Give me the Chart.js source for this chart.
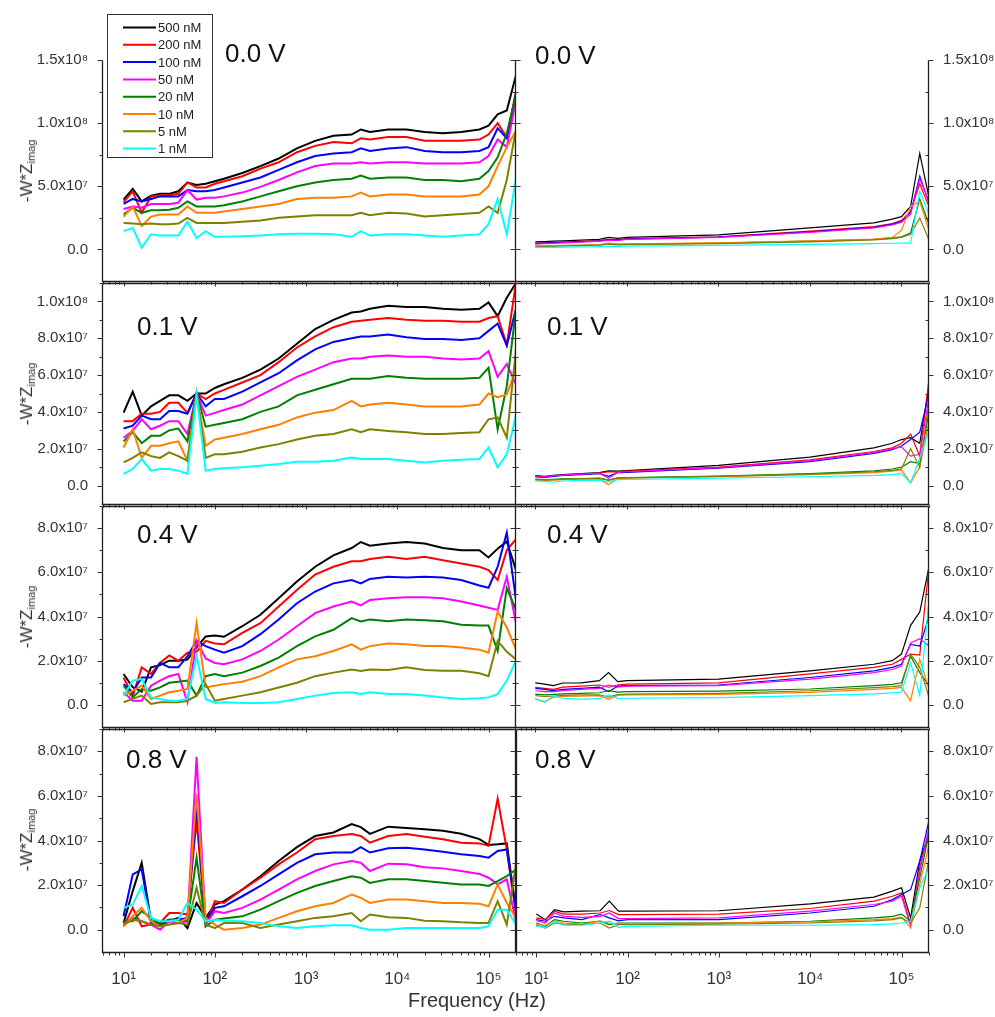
<!DOCTYPE html>
<html>
<head>
<meta charset="utf-8">
<script src="https://cdn.jsdelivr.net/npm/chart.js@4.4.1/dist/chart.umd.min.js"></script>
<style>
  body { margin: 0; background: #fff; width: 995px; height: 1017px; position: relative; overflow: hidden;
         font-family: "Liberation Sans", Arial, sans-serif; }
  canvas { position: absolute; }
  .ytitle { position: absolute; left: 27px; transform: translate(-50%, -50%) rotate(-90deg);
            white-space: nowrap; font-size: 17px; color: #333; }
  .ytitle sub { font-size: 11px; vertical-align: -3px; }
  .xtitle { position: absolute; left: 408px; top: 990px; font-size: 20px; line-height: 20px; color: #333; }
</style>
</head>
<body>
<script>
// series order: 500, 200, 100, 50, 20, 10, 5, 1 nM
const concentrations = ['500 nM', '200 nM', '100 nM', '50 nM', '20 nM', '10 nM', '5 nM', '1 nM'];
const colors = ['#000000', '#ff0000', '#0000ff', '#ff00ff', '#008000', '#ff8000', '#808000', '#00ffff'];
const voltages = ['0.0 V', '0.1 V', '0.4 V', '0.8 V'];

const freqLeft = [10, 12.6, 15.8, 20, 25.1, 31.6, 39.8, 50.1, 63.1, 79.4, 100, 126, 200, 316, 501, 794,
  1259, 1995, 3162, 3981, 5012, 7943, 12589, 19953, 31623, 50119, 79433, 100000, 125893, 158489, 200000];
const freqRight = [10, 12.6, 15.8, 20, 31.6, 50.1, 63.1, 79.4, 100, 1000, 10000, 50000, 79433, 100000,
  125893, 158489, 200000];

const xTicks = [10, 100, 1000, 10000, 100000];
const yTicks = [[0, 5e7, 1e8, 1.5e8], [0, 2e7, 4e7, 6e7, 8e7, 1e8], [0, 2e7, 4e7, 6e7, 8e7], [0, 2e7, 4e7, 6e7, 8e7]];
const yLimits = [[-2.5e7, 1.5e8], [-1e7, 1.1e8], [-1e7, 9e7], [-1e7, 9e7]];

// 0.0 V
const left00 = [
  [3.95e7, 4.8e7, 3.8e7, 4.26e7, 4.4e7, 4.4e7, 4.6e7, 5.3e7, 5.1e7, 5.2e7, 5.4e7, 5.6e7, 6.05e7, 6.6e7, 7.2e7, 8.0e7, 8.6e7, 9.0e7, 9.1e7, 9.5e7, 9.3e7, 9.5e7, 9.5e7, 9.3e7, 9.2e7, 9.3e7, 9.5e7, 9.8e7, 1.07e8, 1.1e8, 1.38e8],
  [3.75e7, 4.6e7, 2.9e7, 4.2e7, 4.3e7, 4.3e7, 4.4e7, 5.3e7, 4.9e7, 4.9e7, 5.2e7, 5.4e7, 5.8e7, 6.4e7, 6.9e7, 7.7e7, 8.2e7, 8.5e7, 8.4e7, 8.8e7, 8.7e7, 8.9e7, 8.9e7, 8.6e7, 8.6e7, 8.6e7, 8.7e7, 9.1e7, 1.0e8, 8.9e7, 1.25e8],
  [3.6e7, 4.0e7, 3.8e7, 4.0e7, 4.2e7, 4.2e7, 4.2e7, 4.7e7, 4.6e7, 4.6e7, 4.7e7, 4.9e7, 5.3e7, 5.7e7, 6.3e7, 6.9e7, 7.4e7, 7.6e7, 7.7e7, 8.0e7, 7.8e7, 8.0e7, 8.1e7, 7.8e7, 7.7e7, 7.7e7, 7.8e7, 8.1e7, 9.6e7, 8.8e7, 1.23e8],
  [3.2e7, 3.4e7, 3.3e7, 3.6e7, 3.6e7, 3.6e7, 3.7e7, 4.7e7, 3.95e7, 4.1e7, 4.1e7, 4.2e7, 4.5e7, 4.95e7, 5.5e7, 6.1e7, 6.6e7, 6.8e7, 6.8e7, 6.9e7, 6.8e7, 6.9e7, 6.9e7, 6.8e7, 6.8e7, 6.8e7, 6.9e7, 7.4e7, 8.7e7, 8.1e7, 1.18e8],
  [2.76e7, 3.3e7, 2.9e7, 3.1e7, 3.1e7, 3.15e7, 3.3e7, 3.8e7, 3.4e7, 3.4e7, 3.4e7, 3.5e7, 3.8e7, 4.2e7, 4.6e7, 5.0e7, 5.3e7, 5.5e7, 5.6e7, 5.85e7, 5.6e7, 5.7e7, 5.7e7, 5.5e7, 5.5e7, 5.4e7, 5.6e7, 6.2e7, 7.3e7, 9.2e7, 1.22e8],
  [2.6e7, 3.4e7, 1.85e7, 2.6e7, 2.76e7, 2.76e7, 2.76e7, 3.4e7, 2.9e7, 2.9e7, 2.9e7, 3.0e7, 3.2e7, 3.4e7, 3.6e7, 4.0e7, 4.1e7, 4.1e7, 4.2e7, 4.5e7, 4.2e7, 4.35e7, 4.35e7, 4.2e7, 4.2e7, 4.2e7, 4.35e7, 5.0e7, 6.6e7, 8.1e7, 9.4e7],
  [2.1e7, 2.05e7, 2.0e7, 2.05e7, 2.0e7, 2.0e7, 2.05e7, 2.5e7, 2.1e7, 2.1e7, 2.1e7, 2.1e7, 2.2e7, 2.3e7, 2.5e7, 2.6e7, 2.7e7, 2.7e7, 2.7e7, 2.9e7, 2.7e7, 2.9e7, 2.85e7, 2.6e7, 2.7e7, 2.8e7, 2.9e7, 3.4e7, 2.9e7, 5.5e7, 9.5e7],
  [1.45e7, 1.7e7, 1.3e6, 1.2e7, 1.1e7, 1.1e7, 1.1e7, 2.2e7, 9.0e6, 1.45e7, 1.0e7, 1.0e7, 1.05e7, 1.1e7, 1.2e7, 1.25e7, 1.25e7, 1.2e7, 1.0e7, 1.45e7, 1.1e7, 1.2e7, 1.2e7, 1.1e7, 1.0e7, 1.1e7, 1.2e7, 2.0e7, 4.0e7, 1.2e7, 5.6e7]
];
const right00 = [
  [6.0e6, 6.2e6, 6.5e6, 6.8e6, 7.3e6, 8.0e6, 9.5e6, 8.8e6, 9.6e6, 1.15e7, 1.7e7, 2.1e7, 2.4e7, 2.6e7, 3.4e7, 7.6e7, 4.1e7],
  [5.0e6, 5.2e6, 5.5e6, 5.8e6, 6.3e6, 7.0e6, 8.0e6, 7.8e6, 8.5e6, 1.0e7, 1.45e7, 1.8e7, 2.05e7, 2.3e7, 3.0e7, 5.2e7, 3.4e7],
  [4.8e6, 5.0e6, 5.3e6, 5.6e6, 6.1e6, 6.8e6, 7.5e6, 7.5e6, 8.2e6, 9.8e6, 1.4e7, 1.75e7, 2.0e7, 2.2e7, 2.9e7, 5.8e7, 3.7e7],
  [4.2e6, 4.5e6, 4.8e6, 5.2e6, 5.8e6, 6.5e6, 7.2e6, 7.2e6, 8.0e6, 9.5e6, 1.35e7, 1.7e7, 1.95e7, 2.15e7, 2.8e7, 5.6e7, 3.8e7],
  [2.5e6, 2.6e6, 2.8e6, 3.0e6, 3.3e6, 3.6e6, 4.5e6, 4.0e6, 4.2e6, 5.0e6, 6.5e6, 8.0e6, 9.0e6, 1.0e7, 1.3e7, 4.0e7, 2.0e7],
  [2.8e6, 2.9e6, 3.0e6, 3.2e6, 3.5e6, 3.8e6, 5.0e6, 4.2e6, 4.4e6, 5.2e6, 6.8e6, 8.2e6, 9.5e6, 1.5e7, 3.4e7, 3.8e7, 1.5e7],
  [2.2e6, 2.3e6, 2.5e6, 2.7e6, 3.0e6, 3.3e6, 4.2e6, 3.6e6, 3.8e6, 4.6e6, 6.0e6, 7.5e6, 8.5e6, 9.5e6, 1.2e7, 2.5e7, 7.5e6],
  [1.5e6, 1.6e6, 1.7e6, 1.8e6, 2.0e6, 2.2e6, 2.5e6, 2.4e6, 2.6e6, 3.2e6, 4.0e6, 4.6e6, 4.9e6, 5.0e6, 5.0e6, 4.6e7, 2.8e7]
];

// 0.1 V
const left01 = [
  [3.96e7, 5.1e7, 3.8e7, 4.3e7, 4.6e7, 4.9e7, 4.9e7, 4.6e7, 5.0e7, 5.0e7, 5.3e7, 5.5e7, 5.85e7, 6.3e7, 6.9e7, 7.7e7, 8.5e7, 9.0e7, 9.4e7, 9.45e7, 9.6e7, 9.77e7, 9.7e7, 9.7e7, 9.6e7, 9.55e7, 9.6e7, 9.95e7, 9.2e7, 1.02e8, 1.1e8],
  [3.5e7, 3.5e7, 3.9e7, 3.9e7, 4.0e7, 4.5e7, 4.5e7, 3.95e7, 5.0e7, 4.7e7, 5.0e7, 5.2e7, 5.6e7, 6.0e7, 6.7e7, 7.5e7, 8.1e7, 8.6e7, 8.9e7, 8.95e7, 9.0e7, 9.1e7, 9.0e7, 8.95e7, 8.95e7, 8.9e7, 8.9e7, 9.1e7, 9.2e7, 7.65e7, 1.1e8],
  [3.1e7, 3.25e7, 3.8e7, 3.6e7, 3.6e7, 4.05e7, 4.05e7, 3.9e7, 5.0e7, 4.3e7, 4.7e7, 4.7e7, 5.1e7, 5.6e7, 6.1e7, 6.8e7, 7.4e7, 7.8e7, 8.0e7, 8.1e7, 8.1e7, 8.2e7, 8.05e7, 7.96e7, 7.96e7, 7.9e7, 8.0e7, 8.4e7, 8.8e7, 7.6e7, 9.6e7],
  [2.6e7, 2.97e7, 3.6e7, 3.06e7, 3.25e7, 3.5e7, 3.5e7, 2.8e7, 5.0e7, 3.8e7, 3.95e7, 4.1e7, 4.4e7, 4.9e7, 5.4e7, 5.9e7, 6.3e7, 6.7e7, 6.9e7, 6.9e7, 7.0e7, 7.06e7, 7.0e7, 7.0e7, 6.9e7, 6.85e7, 6.9e7, 7.3e7, 5.9e7, 6.6e7, 5.5e7],
  [2.4e7, 2.9e7, 2.3e7, 2.7e7, 2.7e7, 3.0e7, 3.1e7, 2.4e7, 5.0e7, 3.2e7, 3.3e7, 3.4e7, 3.6e7, 4.0e7, 4.3e7, 4.9e7, 5.2e7, 5.5e7, 5.8e7, 5.8e7, 5.8e7, 5.95e7, 5.85e7, 5.8e7, 5.8e7, 5.8e7, 5.85e7, 6.4e7, 3.05e7, 5.4e7, 9.6e7],
  [2.07e7, 3.06e7, 1.5e7, 2.16e7, 2.16e7, 2.3e7, 2.4e7, 1.35e7, 5.0e7, 2.16e7, 2.5e7, 2.6e7, 2.8e7, 3.06e7, 3.3e7, 3.7e7, 3.96e7, 4.1e7, 4.6e7, 4.3e7, 4.4e7, 4.5e7, 4.4e7, 4.3e7, 4.3e7, 4.3e7, 4.4e7, 5.0e7, 4.8e7, 4.95e7, 6.3e7],
  [1.26e7, 1.5e7, 1.8e7, 1.6e7, 1.5e7, 1.8e7, 1.6e7, 1.35e7, 5.0e7, 1.5e7, 1.7e7, 1.7e7, 1.84e7, 2.07e7, 2.25e7, 2.5e7, 2.7e7, 2.8e7, 3.06e7, 2.9e7, 3.06e7, 2.97e7, 2.9e7, 2.8e7, 2.8e7, 2.85e7, 2.9e7, 3.6e7, 3.7e7, 2.6e7, 7.4e7],
  [6.3e6, 9.0e6, 1.44e7, 8.1e6, 9.0e6, 9.0e6, 8.1e6, 6.3e6, 4.9e7, 8.1e6, 9.0e6, 9.4e6, 9.9e6, 1.08e7, 1.17e7, 1.3e7, 1.3e7, 1.35e7, 1.53e7, 1.44e7, 1.44e7, 1.44e7, 1.35e7, 1.26e7, 1.35e7, 1.4e7, 1.44e7, 2.07e7, 9.9e6, 1.7e7, 3.8e7]
];
const right01 = [
  [5.4e6, 5.0e6, 5.6e6, 6.0e6, 6.5e6, 7.0e6, 8.0e6, 7.8e6, 8.1e6, 1.1e7, 1.55e7, 2.05e7, 2.3e7, 2.5e7, 2.6e7, 2.3e7, 5.4e7],
  [5.0e6, 4.6e6, 5.2e6, 5.6e6, 6.2e6, 6.8e6, 7.5e6, 7.3e6, 7.8e6, 1.0e7, 1.4e7, 1.85e7, 2.05e7, 2.3e7, 2.8e7, 1.6e7, 5.8e7],
  [4.8e6, 4.5e6, 5.0e6, 5.5e6, 6.0e6, 6.5e6, 5.0e6, 7.0e6, 7.2e6, 9.5e6, 1.3e7, 1.75e7, 1.95e7, 2.15e7, 2.5e7, 2.9e7, 5.0e7],
  [5.2e6, 4.8e6, 5.4e6, 5.7e6, 6.2e6, 6.7e6, 4.0e6, 7.2e6, 7.5e6, 9.8e6, 1.35e7, 1.8e7, 2.0e7, 2.1e7, 1.6e7, 1.7e7, 4.8e7],
  [3.5e6, 3.2e6, 3.4e6, 3.6e6, 3.8e6, 4.0e6, 3.0e6, 4.2e6, 4.3e6, 5.2e6, 6.5e6, 8.0e6, 9.0e6, 1.0e7, 1.3e7, 1.2e7, 4.0e7],
  [3.0e6, 2.8e6, 3.0e6, 3.2e6, 3.5e6, 3.6e6, 5.0e5, 3.8e6, 4.0e6, 4.8e6, 6.0e6, 7.0e6, 7.8e6, 8.5e6, 1.5e6, 1.0e7, 3.5e7],
  [3.2e6, 3.0e6, 3.2e6, 3.4e6, 3.7e6, 3.9e6, 3.0e6, 4.0e6, 4.2e6, 5.0e6, 6.2e6, 7.5e6, 8.3e6, 9.0e6, 2.0e7, 1.0e7, 4.5e7],
  [2.5e6, 2.3e6, 1.8e6, 2.5e6, 2.8e6, 3.0e6, 2.0e6, 3.2e6, 3.3e6, 4.0e6, 4.8e6, 5.5e6, 6.0e6, 6.5e6, 1.5e6, 1.5e7, 3.0e7]
];

// 0.4 V
const left04 = [
  [1.4e7, 8.0e6, 6.0e6, 1.7e7, 1.8e7, 2.0e7, 2.0e7, 2.05e7, 2.6e7, 3.1e7, 3.14e7, 3.08e7, 3.56e7, 4.08e7, 4.83e7, 5.58e7, 6.25e7, 6.77e7, 7.1e7, 7.37e7, 7.2e7, 7.3e7, 7.37e7, 7.3e7, 7.1e7, 7.0e7, 7.0e7, 6.67e7, 7.07e7, 7.4e7, 6.1e7],
  [1.24e7, 4.0e6, 1.7e7, 1.4e7, 1.9e7, 2.24e7, 2.0e7, 2.36e7, 2.4e7, 2.9e7, 2.78e7, 2.74e7, 3.26e7, 3.7e7, 4.45e7, 5.2e7, 5.9e7, 6.25e7, 6.5e7, 6.5e7, 6.6e7, 6.7e7, 6.6e7, 6.7e7, 6.55e7, 6.4e7, 6.25e7, 6.1e7, 5.65e7, 7.0e7, 7.5e7],
  [9.4e6, 5.7e6, 1.24e7, 1.24e7, 1.9e7, 1.7e7, 1.7e7, 2.2e7, 2.9e7, 2.66e7, 2.5e7, 2.36e7, 2.66e7, 3.2e7, 3.86e7, 4.6e7, 5.13e7, 5.5e7, 5.65e7, 5.5e7, 5.7e7, 5.8e7, 5.76e7, 5.8e7, 5.76e7, 5.65e7, 5.4e7, 5.3e7, 6.25e7, 7.8e7, 4.75e7],
  [5.7e6, 1.9e6, 1.9e6, 8.7e6, 1.1e7, 1.3e7, 1.4e7, 1.2e6, 2.9e7, 2.1e7, 1.9e7, 1.84e7, 2.06e7, 2.44e7, 2.96e7, 3.56e7, 4.15e7, 4.45e7, 4.68e7, 4.5e7, 4.75e7, 4.83e7, 4.87e7, 4.87e7, 4.83e7, 4.68e7, 4.5e7, 4.4e7, 4.3e7, 5.8e7, 3.7e7],
  [8.7e6, 3.4e6, 7.2e6, 6.4e6, 7.9e6, 1.0e7, 1.05e7, 1.1e7, 4.2e6, 1.3e7, 1.4e7, 1.3e7, 1.46e7, 1.76e7, 2.14e7, 2.66e7, 3.1e7, 3.4e7, 3.93e7, 3.78e7, 3.86e7, 3.78e7, 3.86e7, 3.83e7, 3.78e7, 3.63e7, 3.59e7, 3.59e7, 2.44e7, 5.28e7, 4.3e7],
  [4.2e6, 6.4e6, 8.7e6, 2.7e6, 4.2e6, 5.7e6, 6.4e6, 7.2e6, 3.7e7, 7.9e6, 8.7e6, 9.4e6, 1.05e7, 1.3e7, 1.7e7, 2.06e7, 2.2e7, 2.44e7, 2.74e7, 2.5e7, 2.66e7, 2.78e7, 2.74e7, 2.66e7, 2.66e7, 2.6e7, 2.5e7, 2.36e7, 4.23e7, 3.5e7, 2.5e7],
  [1.2e6, 2.7e6, 4.2e6, 4.5e5, 1.2e6, 1.2e6, 1.2e6, 1.9e6, 4.2e6, 9.4e6, 1.9e6, 2.7e6, 4.2e6, 5.7e6, 7.9e6, 1.0e7, 1.3e7, 1.46e7, 1.6e7, 1.54e7, 1.6e7, 1.58e7, 1.7e7, 1.58e7, 1.54e7, 1.54e7, 1.43e7, 1.3e7, 2.9e7, 2.4e7, 2.06e7],
  [4.2e6, 1.1e7, 1.17e7, 3.4e6, 2.7e6, 1.9e6, 1.9e6, 2.7e6, 2.2e7, 2.7e6, 9.0e5, 1.2e6, 9.0e5, 9.0e5, 1.2e6, 2.7e6, 4.2e6, 5.4e6, 5.7e6, 4.9e6, 5.7e6, 4.9e6, 4.9e6, 4.2e6, 3.4e6, 2.7e6, 3.0e6, 3.4e6, 4.9e6, 1.1e7, 2.0e7]
];
const right04 = [
  [1.0e7, 9.4e6, 8.7e6, 9.9e6, 1.0e7, 1.1e7, 1.46e7, 1.05e7, 1.1e7, 1.17e7, 1.54e7, 1.84e7, 2.0e7, 2.3e7, 3.6e7, 4.2e7, 6.25e7],
  [7.9e6, 7.5e6, 7.0e6, 8.0e6, 8.5e6, 9.0e6, 8.0e6, 9.0e6, 9.4e6, 1.0e7, 1.4e7, 1.7e7, 1.84e7, 2.06e7, 2.3e7, 2.25e7, 6.25e7],
  [7.5e6, 7.0e6, 6.5e6, 7.0e6, 7.5e6, 8.0e6, 6.0e6, 8.5e6, 8.7e6, 9.0e6, 1.24e7, 1.54e7, 1.7e7, 1.84e7, 2.74e7, 2.66e7, 4.0e7],
  [6.4e6, 6.0e6, 6.0e6, 6.5e6, 7.0e6, 7.5e6, 9.0e6, 8.0e6, 8.5e6, 8.7e6, 1.17e7, 1.46e7, 1.6e7, 1.76e7, 2.8e7, 3.0e7, 2.66e7],
  [4.9e6, 4.5e6, 4.8e6, 5.0e6, 5.2e6, 5.5e6, 6.5e6, 5.8e6, 6.0e6, 6.2e6, 7.2e6, 8.7e6, 9.3e6, 1.0e7, 2.2e7, 1.46e7, 8.7e6],
  [2.7e6, 1.5e6, 3.5e6, 3.8e6, 4.0e6, 4.2e6, 2.5e6, 4.3e6, 4.5e6, 4.8e6, 5.7e6, 7.0e6, 7.5e6, 7.9e6, 1.9e6, 2.06e7, 7.2e6],
  [4.2e6, 3.8e6, 4.0e6, 4.3e6, 4.5e6, 4.6e6, 3.5e6, 4.7e6, 4.9e6, 5.2e6, 6.4e6, 7.8e6, 8.3e6, 8.7e6, 2.3e7, 1.7e7, 3.4e6],
  [2.7e6, 1.2e6, 4.2e6, 3.0e6, 2.6e6, 2.8e6, 4.5e6, 2.9e6, 3.0e6, 3.3e6, 4.2e6, 5.0e6, 5.4e6, 5.7e6, 1.9e7, 4.2e6, 4.75e7]
];

// 0.8 V
const left08 = [
  [3.0e6, 1.73e7, 3.0e7, 3.8e6, 2.3e6, 3.8e6, 5.3e6, 7.5e5, 1.2e7, 5.3e6, 1.13e7, 1.28e7, 1.8e7, 2.4e7, 3.08e7, 3.7e7, 4.2e7, 4.36e7, 4.74e7, 4.6e7, 4.3e7, 4.62e7, 4.56e7, 4.5e7, 4.44e7, 4.3e7, 4.06e7, 3.8e7, 3.83e7, 3.87e7, 8.3e6],
  [1.5e6, 9.8e6, 1.5e6, 2.3e6, 3.0e6, 7.5e6, 7.5e6, 6.8e6, 4.9e7, 2.3e6, 1.28e7, 1.2e7, 1.8e7, 2.33e7, 2.93e7, 3.46e7, 4.06e7, 4.2e7, 4.29e7, 4.2e7, 3.9e7, 4.2e7, 4.29e7, 4.17e7, 4.06e7, 3.9e7, 3.87e7, 3.76e7, 5.87e7, 3.6e7, 6.8e6],
  [6.0e6, 2.48e7, 2.7e7, 3.0e6, 3.0e6, 4.5e6, 4.5e6, 5.3e6, 5.5e7, 3.8e6, 9.8e6, 1.05e7, 1.5e7, 1.96e7, 2.48e7, 3.0e7, 3.38e7, 3.46e7, 3.46e7, 3.7e7, 3.46e7, 3.65e7, 3.68e7, 3.6e7, 3.5e7, 3.38e7, 3.3e7, 3.23e7, 3.53e7, 3.6e7, 9.0e6],
  [3.0e6, 5.3e6, 3.8e6, 2.3e6, 0, 3.8e6, 3.0e6, 3.8e6, 7.75e7, 2.3e6, 8.3e6, 7.5e6, 9.8e6, 1.35e7, 1.8e7, 2.26e7, 2.63e7, 2.93e7, 3.08e7, 3.0e7, 2.63e7, 2.96e7, 2.93e7, 2.8e7, 2.75e7, 2.63e7, 2.5e7, 2.33e7, 2.03e7, 2.26e7, 3.8e6],
  [3.8e6, 3.8e6, 8.3e6, 5.3e6, 2.6e6, 4.5e6, 4.5e6, 3.8e6, 3.23e7, 1.5e6, 4.5e6, 5.0e6, 6.0e6, 9.0e6, 1.28e7, 1.65e7, 1.96e7, 2.18e7, 2.4e7, 2.33e7, 2.1e7, 2.26e7, 2.26e7, 2.18e7, 2.1e7, 2.03e7, 2.03e7, 1.96e7, 2.18e7, 2.4e7, 2.7e7],
  [1.5e6, 6.0e6, 9.8e6, 3.8e6, 1.5e6, 2.3e6, 3.0e6, 5.3e6, 6.1e7, 5.3e6, 2.3e6, 0, 7.5e5, 2.3e6, 5.3e6, 8.3e6, 1.05e7, 1.2e7, 1.58e7, 1.43e7, 1.2e7, 1.35e7, 1.35e7, 1.28e7, 1.2e7, 1.2e7, 1.16e7, 1.05e7, 2.03e7, 1.2e7, 5.3e6],
  [2.3e6, 4.5e6, 3.8e6, 2.3e6, 1.5e6, 2.3e6, 3.0e6, 2.3e6, 1.88e7, 2.3e6, 7.5e5, 3.0e6, 3.0e6, 7.5e5, 2.3e6, 3.8e6, 5.3e6, 6.0e6, 7.5e6, 3.8e6, 6.8e6, 5.6e6, 5.3e6, 4.0e6, 3.8e6, 3.3e6, 3.0e6, 3.0e6, 1.28e7, 2.3e6, 2.93e7],
  [9.8e6, 1.13e7, 1.96e7, 5.3e6, 3.8e6, 3.8e6, 4.5e6, 1.2e7, 9.0e6, 3.8e6, 4.5e6, 4.0e6, 3.8e6, 3.0e6, 1.5e6, 7.5e5, 1.5e6, 2.0e6, 2.0e6, 7.5e5, 0, 0, 7.5e5, 7.5e5, 7.5e5, 7.5e5, 7.5e5, 1.5e6, 9.0e6, 9.0e6, 2.3e6]
];
const right08 = [
  [7.0e6, 4.5e6, 9.0e6, 8.0e6, 8.3e6, 8.5e6, 1.28e7, 8.3e6, 8.3e6, 8.5e6, 1.16e7, 1.46e7, 1.73e7, 1.88e7, 5.3e6, 3.08e7, 4.3e7],
  [5.3e6, 4.5e6, 8.3e6, 7.0e6, 7.0e6, 7.5e6, 8.6e6, 6.8e6, 6.8e6, 7.0e6, 9.5e6, 1.28e7, 1.5e7, 1.65e7, 2.3e6, 2.8e7, 4.4e7],
  [4.5e6, 3.8e6, 6.0e6, 5.3e6, 4.5e6, 6.8e6, 5.3e6, 4.0e6, 4.5e6, 4.5e6, 7.5e6, 1.05e7, 1.35e7, 1.58e7, 1.8e7, 3.08e7, 4.9e7],
  [4.0e6, 3.0e6, 7.5e6, 6.0e6, 5.5e6, 6.0e6, 7.5e6, 5.0e6, 5.0e6, 5.3e6, 8.3e6, 1.13e7, 1.28e7, 1.5e7, 1.5e6, 2.63e7, 4.6e7],
  [3.0e6, 1.5e6, 4.5e6, 3.8e6, 3.0e6, 3.8e6, 2.3e6, 3.0e6, 3.0e6, 3.0e6, 3.8e6, 5.3e6, 6.0e6, 7.0e6, 3.8e6, 2.33e7, 4.3e7],
  [2.3e6, 2.0e6, 3.8e6, 3.0e6, 2.5e6, 3.8e6, 3.0e6, 2.5e6, 2.5e6, 3.0e6, 3.5e6, 4.5e6, 5.0e6, 5.6e6, 7.5e5, 2.03e7, 3.8e7],
  [2.0e6, 7.5e5, 3.0e6, 2.5e6, 2.3e6, 3.0e6, 7.5e5, 2.3e6, 2.3e6, 2.5e6, 3.0e6, 4.0e6, 4.5e6, 5.3e6, 3.0e6, 9.8e6, 3.2e7],
  [1.5e6, 1.0e6, 3.8e6, 2.0e6, 2.0e6, 3.0e6, 3.8e6, 1.0e6, 1.5e6, 2.0e6, 2.0e6, 2.3e6, 2.6e6, 3.0e6, 3.8e6, 1.88e7, 2.8e7]
];

const leftPanels = [left00, left01, left04, left08];
const rightPanels = [right00, right01, right04, right08];

// page layout (pixels)
const rowTop = [60, 282, 505, 728];
const rowBottom = [282, 505, 728, 952];
const labelPosL = [[225, 62], [137, 335], [137, 543], [126, 768]];
const labelPosR = [[535, 64], [547, 335], [547, 543], [535, 768]];

const SUP = ['\u2070', '\u00b9', '\u00b2', '\u00b3', '\u2074', '\u2075', '\u2076', '\u2077', '\u2078', '\u2079'];
const sup = n => String(n).split('').map(d => SUP[+d]).join('');
function yLabel(v) {
  if (v === 0) return '0.0';
  const e = Math.floor(Math.log10(v) + 1e-9);
  return (v / Math.pow(10, e)).toFixed(1) + 'x10' + sup(e);
}

const framePlugin = {
  id: 'frame',
  afterDatasetsDraw(chart, args, o) {
    const { ctx, chartArea: a, scales: { x, y } } = chart;
    // same rounding on every edge so shared borders of neighbouring panels coincide
    const L = Math.round(a.left) + 0.5, R = Math.round(a.right) - 0.5;
    const Tp = Math.round(a.top) + 0.5, Bt = Math.round(a.bottom) + 0.5;
    ctx.save();
    ctx.strokeStyle = '#1e1e1e';
    ctx.lineWidth = 1.3;
    ctx.beginPath();
    if (o.row > 0) { ctx.moveTo(L, Tp); ctx.lineTo(R, Tp); }
    ctx.moveTo(L, Tp); ctx.lineTo(L, Bt); ctx.lineTo(R, Bt); ctx.lineTo(R, Tp);
    ctx.stroke();

    ctx.strokeStyle = '#333';
    ctx.lineWidth = 1;
    ctx.beginPath();
    // log minor + major ticks along bottom, pointing out
    for (let d = 0; d <= 5; d++) {
      for (let k = 1; k <= 9; k++) {
        const v = k * Math.pow(10, d);
        if (v < x.min || v > x.max) continue;
        const px = Math.round(x.getPixelForValue(v)) + 0.5;
        ctx.moveTo(px, Bt); ctx.lineTo(px, Bt + (k === 1 ? 5 : 3));
      }
    }
    // y ticks, majors labelled, minors half way
    const maj = yTicks[o.row];
    const half = (maj[1] - maj[0]) / 2;
    for (let v = Math.ceil(y.min / half) * half; v <= y.max; v += half) {
      if (v === y.min) continue;
      const isMaj = maj.includes(v);
      const py = Math.round(y.getPixelForValue(v)) + 0.5;
      const len = isMaj ? 5 : 3;
      if (o.left) {
        ctx.moveTo(L, py); ctx.lineTo(L - len, py);
        ctx.moveTo(R, py); ctx.lineTo(R - len, py);
      } else {
        ctx.moveTo(R, py); ctx.lineTo(isMaj ? R + len : R - len, py);
        ctx.moveTo(L, py); ctx.lineTo(L + len, py);
      }
    }
    ctx.stroke();

    // panel voltage label
    ctx.fillStyle = '#111';
    ctx.font = '26px "Liberation Sans", Arial, sans-serif';
    ctx.textBaseline = 'alphabetic';
    ctx.textAlign = 'left';
    ctx.fillText(o.label, o.lx, o.ly);

    // legend box in the first panel
    if (o.legend) {
      ctx.fillStyle = '#fff';
      ctx.fillRect(108, 14, 104, 143);
      ctx.strokeStyle = '#333';
      ctx.lineWidth = 1;
      ctx.strokeRect(107.5, 14.5, 105, 143);
      ctx.font = '13px "Liberation Sans", Arial, sans-serif';
      chart.data.datasets.forEach((ds, i) => {
        const ly = 27.5 + i * 17.3;
        ctx.strokeStyle = ds.borderColor;
        ctx.lineWidth = 2;
        ctx.beginPath();
        ctx.moveTo(123, ly); ctx.lineTo(156, ly);
        ctx.stroke();
        ctx.fillStyle = '#222';
        ctx.fillText(ds.label, 158, ly + 4.5);
      });
    }
    ctx.restore();
  }
};

function makePanel(row, isLeft) {
  const padTop = row === 0 ? 60 : 14;
  const padBot = row === 3 ? 52 : 14;
  const cx = isLeft ? 0 : 515;
  const cw = isLeft ? 516 : 480;
  const cy = rowTop[row] - padTop;
  const ch = rowBottom[row] - rowTop[row] + padTop + padBot;
  const cv = document.createElement('canvas');
  cv.width = cw; cv.height = ch;
  cv.style.left = cx + 'px'; cv.style.top = cy + 'px';
  cv.style.width = cw + 'px'; cv.style.height = ch + 'px';
  document.body.appendChild(cv);

  const freq = isLeft ? freqLeft : freqRight;
  const series = isLeft ? leftPanels[row] : rightPanels[row];
  const lp = isLeft ? labelPosL[row] : labelPosR[row];

  const datasets = series.map((vals, i) => ({
    label: concentrations[i],
    data: freq.map((f, j) => ({ x: f, y: vals[j] })),
    borderColor: colors[i],
    borderWidth: isLeft ? 2 : 1.2,
    pointRadius: 0,
    tension: 0,
    fill: false,
    order: series.length - 1 - i
  }));

  new Chart(cv, {
    type: 'line',
    data: { datasets },
    options: {
      responsive: false,
      animation: false,
      events: [],
      layout: { padding: { top: padTop, left: 0, right: 0, bottom: 0 } },
      plugins: {
        legend: { display: false },
        tooltip: { enabled: false },
        frame: { row, left: isLeft, label: voltages[row], lx: lp[0] - cx, ly: lp[1] - cy, legend: isLeft && row === 0 }
      },
      scales: {
        x: {
          type: 'logarithmic',
          min: isLeft ? 5.8 : 6,
          max: 2e5,
          grid: { display: false },
          border: { display: false },
          afterBuildTicks: s => { s.ticks = xTicks.map(v => ({ value: v })); },
          afterFit: s => { s.height = padBot; },
          ticks: {
            display: row === 3,
            autoSkip: false,
            maxRotation: 0,
            padding: 9,
            color: '#333',
            font: { family: '"Liberation Sans", Arial, sans-serif', size: 17 },
            callback: v => '10' + sup(Math.round(Math.log10(v)))
          }
        },
        y: {
          position: isLeft ? 'left' : 'right',
          min: yLimits[row][0],
          max: yLimits[row][1],
          grid: { display: false },
          border: { display: false },
          afterBuildTicks: s => { s.ticks = yTicks[row].map(v => ({ value: v })); },
          afterFit: s => { s.width = isLeft ? 102 : 66; },
          ticks: {
            padding: 6,
            color: '#333',
            font: { family: '"Liberation Sans", Arial, sans-serif', size: 15 },
            callback: v => yLabel(v)
          }
        }
      }
    },
    plugins: [framePlugin]
  });
}

for (let r = 0; r < 4; r++) {
  makePanel(r, true);
  makePanel(r, false);
  const t = document.createElement('div');
  t.className = 'ytitle';
  t.style.top = ((rowTop[r] + rowBottom[r]) / 2) + 'px';
  t.innerHTML = '-W*Z<sub>imag</sub>';
  document.body.appendChild(t);
}
const xt = document.createElement('div');
xt.className = 'xtitle';
xt.textContent = 'Frequency (Hz)';
document.body.appendChild(xt);
</script>
</body>
</html>
